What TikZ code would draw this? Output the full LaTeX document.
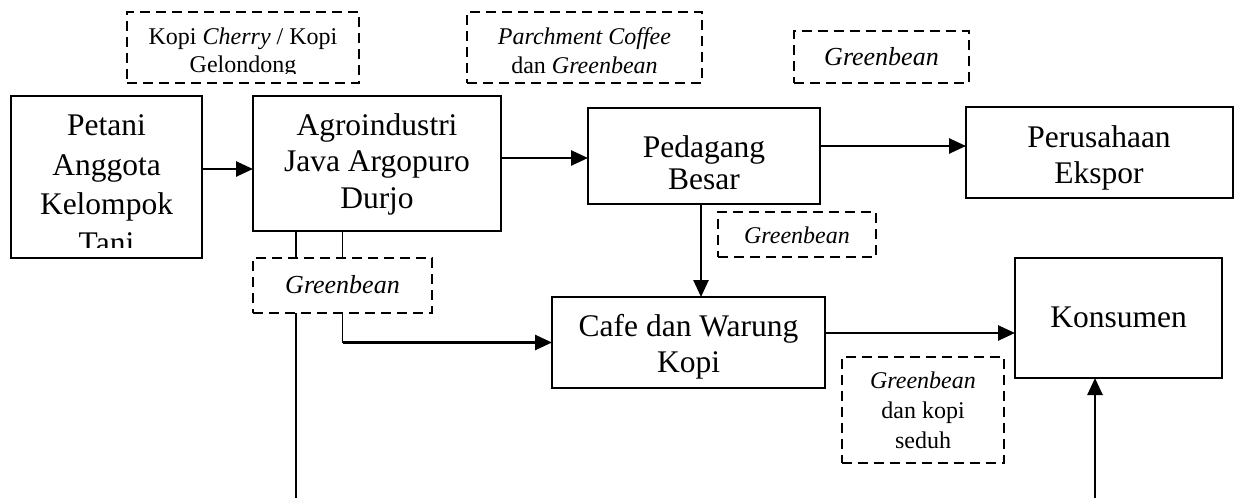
\documentclass[tikz,border=0pt]{standalone}
\usepackage{fontspec}
\setmainfont{Liberation Serif}
\usetikzlibrary{arrows.meta,calc}
\begin{document}
\begin{tikzpicture}[x=1pt,y=-1pt,
  box/.style={draw,line width=2pt,inner sep=0pt,outer sep=0pt},
  dbox/.style={draw,line width=1.7pt,dash pattern=on 10pt off 6pt,inner sep=0pt,outer sep=0pt},
  big/.style={font=\fontsize{31.5}{38}\selectfont,inner sep=0pt,anchor=base},
  small/.style={font=\fontsize{24}{28}\selectfont,inner sep=0pt,anchor=base},
  smallb/.style={font=\fontsize{26}{30}\selectfont,inner sep=0pt,anchor=base},
  arr/.style={line width=2.6pt,-{Triangle[length=17pt,width=15pt]}},
  thinl/.style={line width=1.4pt}]
\useasboundingbox (0,0) rectangle (1234,498);

% solid boxes
\node[box,minimum width=191pt,minimum height=162pt] (petani) at (106.5,177) {};
\node[box,minimum width=248pt,minimum height=135pt] (agro) at (377,163.5) {};
\node[box,minimum width=232pt,minimum height=96pt] (pedagang) at (704,156) {};
\node[box,minimum width=267pt,minimum height=91pt] (ekspor) at (1099.5,152.5) {};
\node[box,minimum width=207pt,minimum height=120pt] (konsumen) at (1118.5,318) {};
\node[box,minimum width=273pt,minimum height=91pt] (cafe) at (688.5,342.5) {};

% dashed boxes
\node[dbox,minimum width=232pt,minimum height=71pt] (dkopi) at (243,47.5) {};
\node[dbox,minimum width=235pt,minimum height=71pt] (dparch) at (584.5,47.5) {};
\node[dbox,minimum width=175pt,minimum height=52pt] (dgbA) at (881.5,57) {};
\node[dbox,minimum width=158pt,minimum height=45pt] (dgbB) at (797,234.5) {};
\node[dbox,minimum width=179pt,minimum height=55pt] (dgbC) at (342.5,285.5) {};
\node[dbox,minimum width=162pt,minimum height=106pt] (dgbD) at (923,410) {};

% texts in solid boxes
\begin{scope}
  \clip (0,0) rectangle (1234,247);
  \node[big] (tpA) at (106.5,135) {Petani};
  \node[big] (tpB) at (106.5,175) {Anggota};
  \node[big] (tpC) at (106.5,214) {Kelompok};
  \node[big] (tpD) at (106.5,253) {Tani};
\end{scope}
\node[big] (taA) at (377,135) {Agroindustri};
\node[big] (taB) at (377,171.5) {Java Argopuro};
\node[big] (taC) at (377,208) {Durjo};
\node[big] (tdA) at (704,157) {Pedagang};
\node[big] (tdB) at (704,189) {Besar};
\node[big] (teA) at (1099,147) {Perusahaan};
\node[big] (teB) at (1099,183) {Ekspor};
\node[big] (tk) at (1118.5,327) {Konsumen};
\node[big] (tcA) at (688.5,336) {Cafe dan Warung};
\node[big] (tcB) at (688.5,372) {Kopi};

% texts in dashed boxes
\node[small] (skA) at (243,44) {Kopi \textit{Cherry} / Kopi};
\begin{scope}
  \clip (0,0) rectangle (1234,73);
  \node[small] (skB) at (243,72) {Gelondong};
\end{scope}
\node[small] (spA) at (584.5,44) {\textit{Parchment Coffee}};
\node[small] (spB) at (584.5,73) {dan \textit{Greenbean}};
\node[smallb] (sgA) at (881.5,65) {\textit{Greenbean}};
\node[small] (sgB) at (797,243) {\textit{Greenbean}};
\node[smallb] (sgC) at (342.5,293) {\textit{Greenbean}};
\node[small] (sgD) at (923,388) {\textit{Greenbean}};
\node[small] (sgE) at (923,418) {dan kopi};
\node[small] (sgF) at (923,448) {seduh};

% connectors
\coordinate (bl) at (296,498);
\coordinate (br) at (1095,498);
\draw[arr] ([yshift=8pt]petani.east) -- ([yshift=8pt]petani.east -| agro.west);
\draw[arr] ([yshift=-2pt]pedagang.west -| agro.east) -- ([yshift=-2pt]pedagang.west);
\draw[arr] ([yshift=10pt]pedagang.east) -- ([yshift=10pt]pedagang.east -| ekspor.west);
\draw[arr] ([xshift=-3pt]pedagang.south) -- ([xshift=-3pt]pedagang.south |- cafe.north);
\draw[arr] ([yshift=9.5pt]cafe.east) -- ([yshift=9.5pt]cafe.east -| konsumen.west);
\draw[thinl] (agro.south -| bl) -- (dgbC.north -| bl);
\draw[thinl] (agro.south -| dgbC.north) -- (dgbC.north);
\draw[thinl] (dgbC.south -| bl) -- (bl);
\draw[thinl] (dgbC.south) -- (dgbC.south |- cafe.west);
\draw[arr] (dgbC.south |- cafe.west) -- (cafe.west);
\draw[arr] (br) -- (br |- konsumen.south);
\end{tikzpicture}
\end{document}
